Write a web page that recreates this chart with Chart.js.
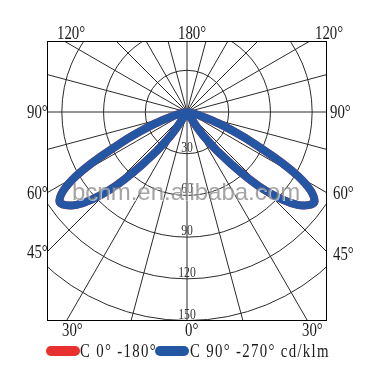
<!DOCTYPE html>
<html>
<head>
<meta charset="utf-8">
<script src="https://cdn.jsdelivr.net/npm/chart.js@4.4.1/dist/chart.umd.min.js"></script>
<style>
body { margin: 0; width: 374px; height: 379px; background: #fff; position: relative; overflow: hidden; font-family: "Liberation Serif", serif; }
#quadro { position: absolute; left: 47px; top: 41px; width: 278px; height: 278px; border: 1px solid #000; overflow: hidden; }
#myChart { position: absolute; left: -153px; top: -222px; }
.rot { position: absolute; font-size: 19px; line-height: 19px; color: #1a1a1a; transform: scaleX(0.78); transform-origin: 0 50%; white-space: pre; }
.pilula { position: absolute; width: 34px; height: 10px; border-radius: 5px; }
#marca { position: absolute; left: 72px; top: 180px; font: 24px/24px "Liberation Sans", Arial, sans-serif; color: rgba(125,125,125,0.7); text-shadow: 1px 1px 0 rgba(255,255,255,0.6); white-space: pre; pointer-events: none; }
</style>
</head>
<body>
<div id="quadro"><canvas id="myChart" width="584" height="584"></canvas></div>
<div id="rotulos"></div>
<div id="legenda"></div>
<div id="marca">bcnm.en.alibaba.com</div>
<script>
// intensidade (cd/klm) por angulo gama 0..180, passo 5 graus
const gamas = Array.from({ length: 37 }, (_, i) => i * 5);
const intensidadeC90 = [0, 0, 0, 0, 0, 0, 2, 22, 47, 80, 104, 112, 92, 52, 25, 9, 2, 0, 0,
                        0, 0, 0, 0, 0, 0, 0, 0, 0, 0, 0, 0, 0, 0, 0, 0, 0, 0];
const intensidadeC0 = intensidadeC90.slice();
const aneis = [30, 60, 90, 120, 150];
const nomesSeries = ['C 0° -180°', 'C 90° -270°'];
const unidade = 'cd/klm';
const coresSeries = ['#e8302f', '#2556a4'];
const rotulosGraus = ['120°', '180°', '120°', '90°', '90°', '60°', '60°', '45°', '45°', '30°', '0°', '30°'];
// posicao (esquerda, centro y) de cada rotulo em graus
const posRotulos = [[57, 33], [178, 33], [315, 33], [27, 112], [330, 112], [27, 193], [333, 193],
                    [27, 252], [333, 254], [62, 330], [185, 330], [302, 330]];

// volta completa de 0 a 355, espelhando o plano
const labelsVolta = Array.from({ length: 72 }, (_, i) => `${i * 5}`);
function espelhar(valores) {
    return labelsVolta.map((_, i) => {
        const g = i <= 36 ? i * 5 : 360 - i * 5;
        return valores[gamas.indexOf(g)];
    });
}

const rotulosAneis = {
    id: 'rotulosAneis',
    afterDatasetsDraw(chart) {
        const r = chart.scales.r;
        const c = chart.ctx;
        c.save();
        c.font = '15px "Liberation Serif"';
        c.fillStyle = '#333';
        c.textAlign = 'center';
        c.textBaseline = 'alphabetic';
        aneis.forEach(v => {
            const p = r.getPointPosition(0, r.getDistanceFromCenterForValue(v));
            c.save();
            c.translate(p.x, p.y - 2);
            c.scale(0.78, 1);
            c.fillText(String(v), 0, 0);
            c.restore();
        });
        c.restore();
    }
};

const ctx = document.getElementById('myChart').getContext('2d');
let chart = new Chart(ctx, {
    type: 'radar',
    data: {
        labels: labelsVolta,
        datasets: [
            { label: nomesSeries[0], data: espelhar(intensidadeC0), borderColor: coresSeries[0], backgroundColor: coresSeries[0], order: 2 },
            { label: nomesSeries[1], data: espelhar(intensidadeC90), borderColor: coresSeries[1], backgroundColor: coresSeries[1], order: 1 }
        ]
    },
    options: {
        responsive: false,
        animation: false,
        layout: { padding: 0 },
        elements: {
            line: { borderWidth: 8, fill: false, tension: 0.38, borderJoinStyle: 'round', borderCapStyle: 'round' },
            point: { radius: 0, hoverRadius: 0 }
        },
        plugins: { legend: { display: false }, tooltip: { enabled: false } },
        scales: {
            r: {
                startAngle: 180,
                min: 0,
                max: 210,
                ticks: { display: false, stepSize: 30 },
                pointLabels: { display: false },
                grid: {
                    circular: true,
                    lineWidth: 1,
                    color: c => (c.tick && c.tick.value <= 150) ? '#2a2a2a' : 'rgba(0,0,0,0)'
                },
                angleLines: {
                    color: '#2a2a2a',
                    lineWidth: c => c.index % 3 === 0 ? 1 : 0
                }
            }
        }
    },
    plugins: [rotulosAneis]
});

// rotulos dos angulos fora do quadro
const caixa = document.getElementById('rotulos');
rotulosGraus.forEach((t, i) => {
    const s = document.createElement('span');
    s.className = 'rot';
    s.textContent = t;
    s.style.left = posRotulos[i][0] + 'px';
    s.style.top = (posRotulos[i][1] - 10) + 'px';
    caixa.appendChild(s);
});

// legenda a partir dos datasets
const leg = document.getElementById('legenda');
const posLegenda = [[46, 80], [155, 190]];
chart.data.datasets.forEach((d, i) => {
    const p = document.createElement('div');
    p.className = 'pilula';
    p.style.left = posLegenda[i][0] + 'px';
    p.style.top = '346px';
    p.style.background = d.borderColor;
    leg.appendChild(p);
    const s = document.createElement('span');
    s.className = 'rot';
    s.style.letterSpacing = '1.7px';
    s.textContent = i === chart.data.datasets.length - 1 ? `${d.label} ${unidade}` : d.label;
    s.style.left = posLegenda[i][1] + 'px';
    s.style.top = '341px';
    leg.appendChild(s);
});
</script>
</body>
</html>
